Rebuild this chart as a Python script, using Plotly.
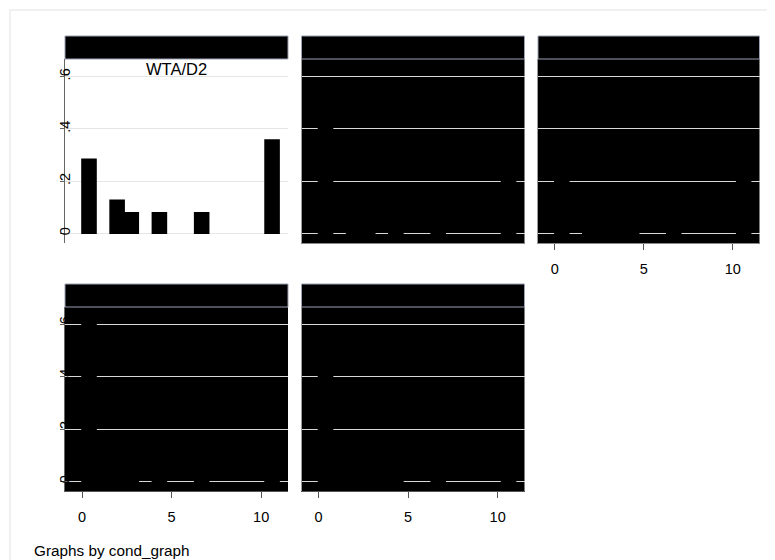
import plotly.graph_objects as go

# ---------------- data ----------------
bin_centers = [0.39, 1.18, 1.96, 2.75, 3.54, 4.32, 5.11, 5.89, 6.68, 7.46, 8.25, 9.04, 9.82, 10.61]
bin_width = 0.786

panel1_frac = [0.283, 0, 0.127, 0.079, 0, 0.079, 0, 0, 0.079, 0, 0, 0, 0, 0.357]
panel2_frac = [0.45, 0, 0.07, 0.06, 0, 0.06, 0, 0, 0.07, 0, 0, 0, 0, 0.29]
panel3_frac = [0.30, 0, 0.08, 0.07, 0.08, 0.08, 0, 0, 0.08, 0, 0, 0, 0, 0.31]
panel4_frac = [0.64, 0.05, 0.05, 0.06, 0, 0.05, 0, 0, 0.05, 0, 0, 0, 0, 0.10]
panel5_frac = [0.50, 0.06, 0.07, 0.07, 0.06, 0.07, 0, 0, 0.07, 0, 0, 0, 0, 0.10]

panel_title = "WTA/D2"
y_tick_vals = [0, 0.2, 0.4, 0.6]
y_tick_text = ["0", ".2", ".4", ".6"]
x_tick_vals = [0, 5, 10]
x_tick_text = ["0", "5", "10"]
note_text = "Graphs by cond_graph"

# ---------------- layout geometry (window pixels) ----------------
W, H = 775, 560
OFF = 8  # page body margin
cols = [(65, 288), (301.5, 524.5), (538, 759.5)]
rows = [(59, 243), (307, 491)]
strip_h = 23
FONT = "Liberation Sans, Arial, sans-serif"


def px_x(p):
    return (p - OFF) / W


def px_y(p):
    return 1 - (p - OFF) / H


# panel: (data, row, col, bg, show_y_labels, show_x_labels, show_x_line)
panels = [
    (panel1_frac, 0, 0, "white", True, False, False),
    (panel2_frac, 0, 1, "black", False, False, True),
    (panel3_frac, 0, 2, "black", False, True, True),
    (panel4_frac, 1, 0, "black", True, True, True),
    (panel5_frac, 1, 1, "black", False, True, True),
]

fig = go.Figure()
layout = dict(
    width=W, height=H, autosize=False,
    margin=dict(l=0, r=0, t=0, b=0),
    paper_bgcolor="white", plot_bgcolor="white",
    showlegend=False,
    font=dict(family=FONT, color="black", size=14),
    shapes=[], annotations=[],
)

for i, (vals, r, c, bg, show_y, show_x, xline) in enumerate(panels):
    n = "" if i == 0 else str(i + 1)
    xa, ya = "x" + n, "y" + n
    fig.add_trace(go.Bar(
        x=bin_centers, y=vals, width=bin_width,
        marker=dict(color="black",
                    line=dict(color="black", width=[1.5 if v > 0 else 0 for v in vals])),
        xaxis=xa, yaxis=ya, hoverinfo="x+y",
    ))
    x0, x1 = cols[c]
    y0, y1 = rows[r]
    layout["xaxis" + n] = dict(
        domain=[px_x(x0), px_x(x1)], anchor=ya,
        range=[-0.95, 11.5], showgrid=False, zeroline=False,
        showline=xline, linecolor="#8a8a8a" if i in (1, 2) else "#555555", linewidth=1,
        ticks="outside" if show_x else "", ticklen=6, tickcolor="#555555",
        showticklabels=show_x, tickvals=x_tick_vals, ticktext=x_tick_text,
        ticklabelstandoff=7,
        tickfont=dict(size=14.5, family=FONT, color="black"),
    )
    layout["yaxis" + n] = dict(
        domain=[px_y(y1), px_y(y0)], anchor=xa,
        range=[-0.037, 0.667], showgrid=True,
        gridcolor="#e6e6e6" if bg == "white" else "#d8d8d8", gridwidth=1,
        zeroline=False, showline=True,
        linecolor="#666666" if show_y else "#9a9a9a", linewidth=1,
        ticks="outside" if show_y else "", ticklen=4, tickcolor="#666666",
        showticklabels=show_y, tickvals=y_tick_vals, ticktext=y_tick_text,
        tickangle=-90, ticklabelstandoff=-16,
        tickfont=dict(size=14.5, family=FONT, color="black"),
    )
    # plot background
    layout["shapes"].append(dict(
        type="rect", xref="paper", yref="paper", layer="below",
        x0=px_x(x0), x1=px_x(x1), y0=px_y(y1), y1=px_y(y0),
        fillcolor=bg, line=dict(width=0),
    ))
    # title strip
    layout["shapes"].append(dict(
        type="rect", xref="paper", yref="paper", layer="above",
        x0=px_x(x0), x1=px_x(x1), y0=px_y(y0), y1=px_y(y0 - strip_h),
        fillcolor="black", line=dict(color="#9ca1b3", width=1),
    ))

# subtitle inside panel 1
layout["annotations"].append(dict(
    text=panel_title, xref="paper", yref="paper",
    x=px_x((cols[0][0] + cols[0][1]) / 2), y=px_y(69),
    xanchor="center", yanchor="middle", showarrow=False,
    font=dict(size=16.5, family=FONT, color="black"),
))
# note
layout["annotations"].append(dict(
    text=note_text, xref="paper", yref="paper",
    x=px_x(32), y=px_y(550), xanchor="left", yanchor="middle", showarrow=False,
    font=dict(size=15.3, family=FONT, color="black"),
))
# outer graph-region frame
layout["shapes"].append(dict(
    type="rect", xref="paper", yref="paper", layer="below",
    x0=px_x(10), x1=1.05, y0=-0.05, y1=px_y(10),
    fillcolor="rgba(0,0,0,0)", line=dict(color="#ececec", width=1.5),
))

fig.update_layout(**layout)
fig.write_html("out.html")
